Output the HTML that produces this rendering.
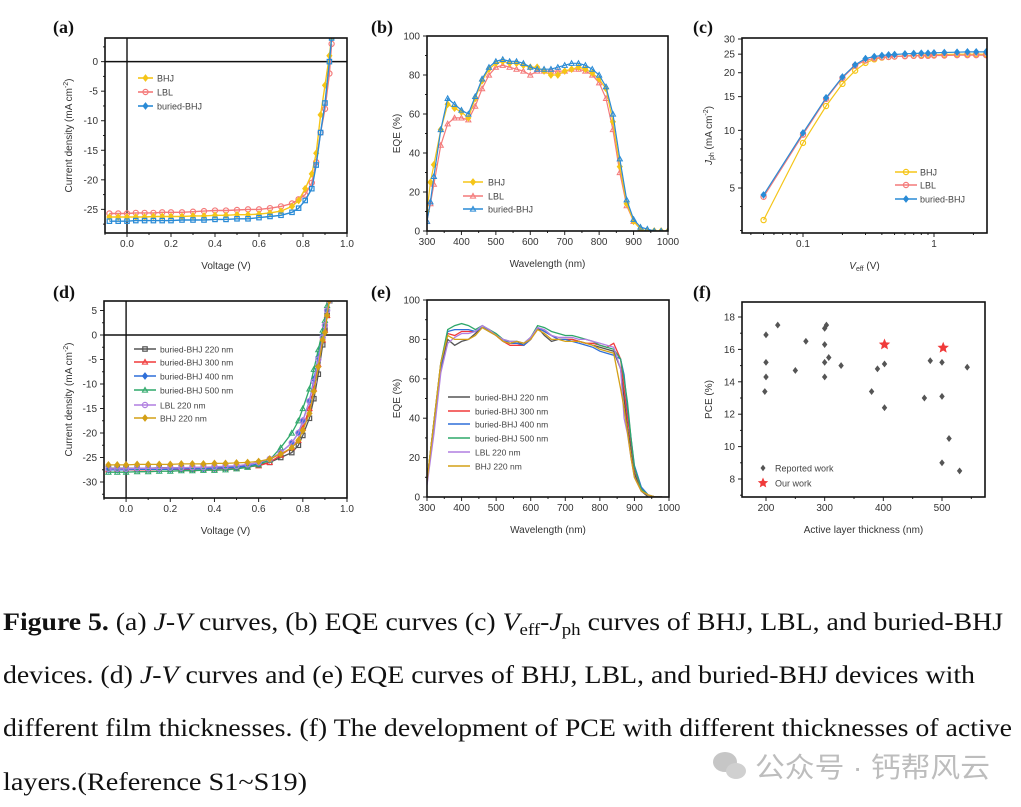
<!DOCTYPE html>
<html><head><meta charset="utf-8"><style>
body{margin:0;background:#fff;width:1021px;height:807px;overflow:hidden}
svg{display:block}
text{font-family:"Liberation Sans",sans-serif}
.cap{font-family:"Liberation Serif",serif;font-size:25px;fill:#111}
</style></head><body>
<svg id="fig" width="1021" height="807" viewBox="0 0 1021 807">
<g id="plots"></g>
<g>
<text class="cap" x="3" y="630" textLength="1000" lengthAdjust="spacingAndGlyphs"><tspan font-weight="bold">Figure 5.</tspan> (a) <tspan font-style="italic">J-V</tspan> curves, (b) EQE curves (c) <tspan font-style="italic">V</tspan><tspan font-size="17" dy="5">eff</tspan><tspan dy="-5">-</tspan><tspan font-style="italic">J</tspan><tspan font-size="17" dy="5">ph</tspan><tspan dy="-5"> curves of BHJ, LBL, and buried-BHJ</tspan></text>
<text class="cap" x="3" y="683" textLength="972" lengthAdjust="spacingAndGlyphs">devices. (d) <tspan font-style="italic">J-V</tspan> curves and (e) EQE curves of BHJ, LBL, and buried-BHJ devices with</text>
<text class="cap" x="3" y="736" textLength="1009" lengthAdjust="spacingAndGlyphs">different film thicknesses. (f) The development of PCE with different thicknesses of active</text>
<text class="cap" x="3" y="790" textLength="304" lengthAdjust="spacingAndGlyphs">layers.(Reference S1~S19)</text>
</g>
<g opacity="0.55">
<ellipse cx="725" cy="762" rx="12" ry="10" fill="#999"/><ellipse cx="736" cy="771" rx="10" ry="8" fill="#aaa"/>
<text x="755" y="777" font-size="28" fill="#888" textLength="235" lengthAdjust="spacingAndGlyphs" style='font-family:"Liberation Sans","Noto Sans CJK SC",sans-serif'>公众号 · 钙帮风云</text>
</g>
</svg>
<script>
// ===== Panel (a) data =====
const aV = [-0.08,-0.04,0,0.04,0.08,0.12,0.16,0.2,0.25,0.3,0.35,0.4,0.45,0.5,0.55,0.6,0.65,0.7,0.75,0.78,0.81,0.84,0.86,0.88,0.9,0.92,0.93];
const aBHJ = [-26.3,-26.3,-26.3,-26.3,-26.3,-26.2,-26.2,-26.2,-26.2,-26.1,-26.1,-26.0,-26.0,-25.9,-25.9,-25.8,-25.6,-25.3,-24.5,-23.5,-21.5,-19,-15.5,-9,-4,1,4];
const aLBL = [-25.7,-25.7,-25.7,-25.6,-25.6,-25.6,-25.5,-25.5,-25.5,-25.4,-25.3,-25.2,-25.2,-25.1,-25.0,-25.0,-24.8,-24.5,-24.0,-23.3,-22.5,-20.5,-17,-12,-8,-2,3];
const aBUR = [-27.0,-27.0,-27.0,-26.9,-26.9,-26.9,-26.9,-26.9,-26.8,-26.8,-26.8,-26.7,-26.7,-26.6,-26.6,-26.4,-26.2,-26.0,-25.5,-24.8,-23.5,-21.5,-17.5,-12,-7,0,4];
const aNames = ["BHJ","LBL","buried-BHJ"];
const aXTicks = [0.0,0.2,0.4,0.6,0.8,1.0];
const aYTicks = [0,-5,-10,-15,-20,-25];
// ===== Panel (b) data =====
const bW = [300,310,320,340,360,380,400,420,440,460,480,500,520,540,560,580,600,620,640,660,680,700,720,740,760,780,800,820,840,860,880,900,920,940,960,980,1000];
const bBHJ = [10,25,34,52,65,63,61,58,68,77,83,86,87,86,86,85,84,84,82,80,80,82,83,84,83,81,78,73,56,33,14,5,1,0,0,0,0];
const bLBL = [5,14,24,44,55,58,58,57,64,73,80,84,85,84,83,82,80,82,82,82,82,82,83,83,82,80,76,68,52,30,13,5,1,0,0,0,0];
const bBUR = [5,15,28,52,68,65,62,60,69,78,84,87,88,87,87,86,84,83,83,83,84,85,86,86,85,83,80,74,60,37,16,6,2,1,0,0,0];
const bXTicks = [300,400,500,600,700,800,900,1000];
const bYTicks = [0,20,40,60,80,100];
// ===== Panel (c) data =====
const cV = [0.05,0.1,0.15,0.2,0.25,0.3,0.35,0.4,0.45,0.5,0.6,0.7,0.8,0.9,1,1.2,1.5,1.8,2.1,2.5];
const cBHJ = [3.4,8.6,13.4,17.5,20.5,22.5,23.5,24,24.2,24.3,24.5,24.6,24.7,24.8,24.8,24.9,25,25,25,25];
const cLBL = [4.5,9.5,14.6,18.8,21.8,23.2,23.8,24.1,24.2,24.3,24.4,24.5,24.5,24.5,24.6,24.6,24.7,24.7,24.7,24.7];
const cBUR = [4.6,9.7,14.8,19,22,23.7,24.3,24.6,24.8,24.9,25.1,25.2,25.3,25.3,25.4,25.5,25.6,25.7,25.7,25.7];
const cXTicks = [0.1,1];
const cYTicks = [5,10,15,20,25,30];
// ===== Panel (d) data =====
const dV = [-0.08,-0.04,0,0.05,0.1,0.15,0.2,0.25,0.3,0.35,0.4,0.45,0.5,0.55,0.6,0.65,0.7,0.75,0.78,0.8,0.83,0.85,0.87,0.89,0.9,0.91,0.92];
const d220 = [-27.2,-27.2,-27.2,-27.2,-27.2,-27.1,-27.1,-27.1,-27.1,-27.0,-27.0,-26.9,-26.9,-26.7,-26.5,-26.0,-25.0,-24.0,-22.5,-20.5,-17,-13,-8,-2,1,4,7];
const d300 = [-27.5,-27.5,-27.5,-27.5,-27.5,-27.4,-27.4,-27.4,-27.4,-27.3,-27.3,-27.2,-27.1,-26.9,-26.7,-26.0,-24.5,-23.0,-21.5,-19,-15,-11,-6,-1,1,4,7];
const d400 = [-27.5,-27.5,-27.5,-27.4,-27.4,-27.4,-27.4,-27.3,-27.3,-27.3,-27.2,-27.1,-27.0,-26.7,-26.3,-25.5,-24.0,-22.0,-20,-17.5,-13.5,-9,-4.5,0,2,5,7];
const d500 = [-28,-28,-28,-27.9,-27.9,-27.8,-27.8,-27.7,-27.7,-27.6,-27.6,-27.5,-27.3,-27.0,-26.5,-25.5,-23.0,-20.0,-17.5,-15,-11,-7,-3,1,3,6,7];
const dLBL = [-27.3,-27.3,-27.3,-27.2,-27.2,-27.2,-27.1,-27.1,-27.0,-27.0,-26.9,-26.8,-26.7,-26.4,-26.0,-25.3,-24.0,-22.0,-20,-17.5,-13.5,-9.5,-5,-0.5,2,5,7];
const dBHJ = [-26.5,-26.5,-26.5,-26.4,-26.4,-26.4,-26.4,-26.3,-26.3,-26.3,-26.2,-26.2,-26.1,-26.0,-25.8,-25.3,-24.3,-23.0,-21.5,-19.5,-16,-11.5,-6.5,-1,0.5,4,7];
const dNames = ["buried-BHJ 220 nm","buried-BHJ 300 nm","buried-BHJ 400 nm","buried-BHJ 500 nm","LBL 220 nm","BHJ 220 nm"];
const dYTicks = [5,0,-5,-10,-15,-20,-25,-30];
// ===== Panel (e) data =====
const eW = [300,320,340,360,380,400,420,440,460,480,500,520,540,560,580,600,620,640,660,680,700,720,740,760,780,800,820,840,860,870,880,890,900,920,940,960,980];
const e220 = [8,38,65,80,77,79,80,83,86,84,82,79,78,79,77,81,86,82,79,80,80,80,79,78,77,76,75,74,65,50,35,25,12,3,0,0,0];
const e300 = [8,38,68,83,82,84,84,84,86,85,82,79,77,77,77,80,86,84,82,80,80,80,79,78,78,77,76,78,70,55,40,28,14,4,1,0,0];
const e400 = [8,36,66,84,85,85,85,84,86,85,82,80,78,78,77,80,86,84,82,80,80,79,78,77,76,74,73,72,70,62,45,30,16,5,1,0,0];
const e500 = [8,38,68,85,87,88,87,85,87,85,83,80,79,79,78,81,87,86,84,83,82,82,81,80,79,77,76,75,70,60,48,30,15,4,1,0,0];
const eLBL = [6,32,63,78,81,83,83,84,87,85,82,80,79,79,78,81,86,85,82,81,81,81,80,80,79,78,77,76,65,40,32,20,10,3,1,0,0];
const eBHJ = [8,38,68,82,80,80,80,82,86,84,82,79,78,79,78,80,85,83,80,80,79,79,79,78,77,75,74,73,55,45,33,20,10,3,1,0,0];
// ===== Panel (f) data =====
const fRepX = [200,200,200,198,220,250,268,300,303,300,300,307,300,328,390,402,380,402,470,480,500,500,500,512,530,543];
const fRepY = [16.9,15.2,14.3,13.4,17.5,14.7,16.5,17.3,17.5,16.3,15.2,15.5,14.3,15.0,14.8,15.1,13.4,12.4,13.0,15.3,15.2,13.1,9.0,10.5,8.5,14.9];
const fOurX = [402,502];
const fOurY = [16.3,16.1];
const fXTicks = [200,300,400,500];
const fYTicks = [8,10,12,14,16,18];

const NS = "http://www.w3.org/2000/svg";
const root = document.getElementById('plots');
function mk(tag, attrs, parent){
  const e = document.createElementNS(NS, tag);
  for (const k in attrs) e.setAttribute(k, attrs[k]);
  (parent||root).appendChild(e);
  return e;
}
function linScale(d0,d1,r0,r1){ return v => r0 + (v-d0)/(d1-d0)*(r1-r0); }
function logScale(d0,d1,r0,r1){ return v => r0 + (Math.log10(v)-Math.log10(d0))/(Math.log10(d1)-Math.log10(d0))*(r1-r0); }

function frame(p){
  const g = mk('g', {});
  
  
  const lab = mk('text', {x:p.lx, y:p.ly, 'font-size':18, 'font-weight':'bold', fill:'#111', style:'font-family:"Liberation Serif",serif'}, g);
  lab.textContent = p.label;
  
  
  const xa = mk('g', {}, g);
  
  
  p.xt.forEach(t => {
    const x = p.sx(t);
    mk('line', {x1:x, x2:x, y1:p.b, y2:p.b+4, stroke:'#222', 'stroke-width':1}, xa);
    const tx = mk('text', {x:x, y:p.b+14, 'font-size':10, 'text-anchor':'middle', fill:'#333'}, xa);
    tx.textContent = p.xf ? p.xf(t) : t;
    
    
  });
  (p.xm||[]).forEach(t => { const x=p.sx(t); mk('line',{x1:x,x2:x,y1:p.b,y2:p.b+2,stroke:'#222','stroke-width':1},xa); });
  const ya = mk('g', {}, g);
  
  
  p.yt.forEach(t => {
    const y = p.sy(t);
    mk('line', {x1:p.l-4, x2:p.l, y1:y, y2:y, stroke:'#222', 'stroke-width':1}, ya);
    const ty = mk('text', {x:p.l-7, y:y+3.5, 'font-size':10, 'text-anchor':'end', fill:'#333'}, ya);
    ty.textContent = p.yf ? p.yf(t) : t;
    
    
  });
  (p.ym||[]).forEach(t => { const y=p.sy(t); mk('line',{x1:p.l-2,x2:p.l,y1:y,y2:y,stroke:'#222','stroke-width':1},ya); });
  const xt = mk('text', {x:(p.l+p.r)/2, y:p.b+36, 'font-size':10, 'text-anchor':'middle', fill:'#333'}, g);
  xt.innerHTML = p.xtitle;
  
  
  const yy = (p.t+p.b)/2;
  const yt = mk('text', {x:p.ytx, y:yy, 'font-size':10, 'text-anchor':'middle', fill:'#333', transform:`rotate(-90 ${p.ytx} ${yy})`}, g);
  yt.innerHTML = p.ytitle;
  
  
  const cid = 'clip'+p.label.replace(/\W/g,'');
  const cp = mk('clipPath', {id:cid}, g);
  mk('rect', {x:p.l, y:p.t, width:p.r-p.l, height:p.b-p.t}, cp);
  const plot = mk('g', {'clip-path':`url(#${cid})`}, g);
  
  
  p.g = g; p.plot = plot;
  return p;
}
function closeFrame(p){
  mk('rect', {x:p.l, y:p.t, width:p.r-p.l, height:p.b-p.t, fill:'none', stroke:'#111', 'stroke-width':1.6}, p.g);
}
function marker(parent, shape, x, y, color, s){
  s = s||2.6;
  let e;
  if (shape==='circle') e = mk('circle', {cx:x, cy:y, r:s, fill:'none', stroke:color, 'stroke-width':1.2}, parent);
  else if (shape==='diamond') e = mk('polygon', {points:`${x},${y-s-0.6} ${x+s},${y} ${x},${y+s+0.6} ${x-s},${y}`, fill:color, stroke:color, 'stroke-width':0.8}, parent);
  else if (shape==='square') e = mk('rect', {x:x-s+0.4, y:y-s+0.4, width:2*s-0.8, height:2*s-0.8, fill:'none', stroke:color, 'stroke-width':1.2}, parent);
  else if (shape==='tri') e = mk('polygon', {points:`${x},${y-s} ${x+s},${y+s*0.8} ${x-s},${y+s*0.8}`, fill:'none', stroke:color, 'stroke-width':1}, parent);
  else if (shape==='star') {
    let pts=[]; for(let i=0;i<10;i++){const r=i%2?s*0.45:s; const a=-Math.PI/2+i*Math.PI/5; pts.push((x+r*Math.cos(a)).toFixed(1)+','+(y+r*Math.sin(a)).toFixed(1));}
    e = mk('polygon', {points:pts.join(' '), fill:color}, parent);
  }
  return e;
}
function series(p, xs, ys, color, shape, name, lw){
  const g = mk('g', {}, p.plot);
  
  
  const d = xs.map((x,i)=>`${i?'L':'M'}${p.sx(x).toFixed(1)},${p.sy(ys[i]).toFixed(1)}`).join(' ');
  mk('path', {d:d, fill:'none', stroke:color, 'stroke-width':lw||1.4}, g);
  if (shape) xs.forEach((x,i)=>{
    const m = marker(g, shape, p.sx(x), p.sy(ys[i]), color);
    
    
  });
}
function legend(p, items, x0, x1, tx, ys, fs){
  const g = mk('g', {}, p.g);
  
  
  items.forEach((it,i)=>{
    const eg = mk('g', {}, g);
    
    
    mk('line', {x1:x0, x2:x1, y1:ys[i], y2:ys[i], stroke:it.c, 'stroke-width':1.6}, eg);
    if (it.s) marker(eg, it.s, (x0+x1)/2, ys[i], it.c);
    const t = mk('text', {x:tx, y:ys[i]+3.5, 'font-size':fs||9, fill:'#444'}, eg);
    t.textContent = it.n;
  });
}

const C_Y='#f5c518', C_R='#f47a7a', C_B='#2a8bd6';
{
  const p = frame({name:'panel-a-jv', label:'(a)', lx:53, ly:33, l:105, r:347, t:38, b:233,
    sx:linScale(-0.1,1.0,105,347), sy:linScale(4,-29,38,233), xt:aXTicks, yt:aYTicks,
    xf:t=>t.toFixed(1), xm:[-0.1,0.1,0.3,0.5,0.7,0.9], ym:[2.5,-2.5,-7.5,-12.5,-17.5,-22.5,-27.5],
    xtitle:'Voltage (V)', ytitle:'Current density (mA cm<tspan dy="-4" font-size="7">-2</tspan><tspan dy="4">)</tspan>', ytx:72});
  mk('line',{x1:p.l,x2:p.r,y1:p.sy(0),y2:p.sy(0),stroke:'#111','stroke-width':1.4},p.plot);
  mk('line',{x1:p.sx(0),x2:p.sx(0),y1:p.t,y2:p.b,stroke:'#111','stroke-width':1.4},p.plot);
  series(p,aV,aLBL,C_R,'circle','lbl');
  series(p,aV,aBHJ,C_Y,'diamond','bhj');
  series(p,aV,aBUR,C_B,'square','buried-bhj');
  legend(p,[{n:aNames[0],c:C_Y,s:'diamond'},{n:aNames[1],c:C_R,s:'circle'},{n:aNames[2],c:C_B,s:'diamond'}],138,153,157,[78,92,106]);
  closeFrame(p);
}
{
  const p = frame({name:'panel-b-eqe', label:'(b)', lx:371, ly:33, l:427, r:668, t:36, b:231,
    sx:linScale(300,1000,427,668), sy:linScale(0,100,231,36), xt:bXTicks, yt:bYTicks,
    xm:[350,450,550,650,750,850,950], ym:[10,30,50,70,90],
    xtitle:'Wavelength (nm)', ytitle:'EQE (%)', ytx:400});
  series(p,bW,bLBL,C_R,'tri','lbl',1.2);
  series(p,bW,bBHJ,C_Y,'diamond','bhj',1.2);
  series(p,bW,bBUR,C_B,'tri','buried-bhj',1.2);
  legend(p,[{n:aNames[0],c:C_Y,s:'diamond'},{n:aNames[1],c:C_R,s:'tri'},{n:aNames[2],c:C_B,s:'tri'}],463,483,488,[182,196,209]);
  closeFrame(p);
}
{
  const p = frame({name:'panel-c-veff-jph', label:'(c)', lx:693, ly:33, l:742, r:987, t:38, b:233,
    sx:logScale(0.1,1,803,934), sy:logScale(5,30,188,39), xt:cXTicks, yt:cYTicks,
    xm:[0.04,0.05,0.06,0.07,0.08,0.09,0.2,0.3,0.4,0.5,0.6,0.7,0.8,0.9,2], ym:[3,4,6,7,8,9],
    xtitle:'<tspan font-style="italic">V</tspan><tspan font-size="7" dy="2">eff</tspan><tspan dy="-2"> (V)</tspan>',
    ytitle:'<tspan font-style="italic">J</tspan><tspan font-size="7" dy="2">ph</tspan><tspan dy="-2"> (mA cm</tspan><tspan dy="-4" font-size="7">-2</tspan><tspan dy="4">)</tspan>', ytx:712});
  series(p,cV,cBHJ,C_Y,'circle','bhj',1.2);
  series(p,cV,cLBL,C_R,'circle','lbl',1.2);
  series(p,cV,cBUR,C_B,'diamond','buried-bhj',1.2);
  legend(p,[{n:aNames[0],c:C_Y,s:'circle'},{n:aNames[1],c:C_R,s:'circle'},{n:aNames[2],c:C_B,s:'diamond'}],895,917,920,[172,185,199]);
  closeFrame(p);
}
const dCols = ['#555555','#f03a3a','#2e6fd8','#2fa86a','#b07fe0','#d4a017'];
const dShapes = ['square','tri','diamond','tri','circle','diamond'];
{
  const p = frame({name:'panel-d-jv-thickness', label:'(d)', lx:53, ly:298, l:104, r:347, t:301, b:498,
    sx:linScale(-0.1,1.0,104,347), sy:linScale(0,-30,335,482), xt:aXTicks, yt:dYTicks,
    xf:t=>t.toFixed(1), xm:[-0.1,0.1,0.3,0.5,0.7,0.9], ym:[2.5,-2.5,-7.5,-12.5,-17.5,-22.5,-27.5,-32.5],
    xtitle:'Voltage (V)', ytitle:'Current density (mA cm<tspan dy="-4" font-size="7">-2</tspan><tspan dy="4">)</tspan>', ytx:72});
  mk('line',{x1:p.l,x2:p.r,y1:p.sy(0),y2:p.sy(0),stroke:'#111','stroke-width':1.4},p.plot);
  mk('line',{x1:p.sx(0),x2:p.sx(0),y1:p.t,y2:p.b,stroke:'#111','stroke-width':1.4},p.plot);
  const ds=[d220,d300,d400,d500,dLBL,dBHJ];
  ds.forEach((s,i)=>series(p,dV,s,dCols[i],dShapes[i],dNames[i].replace(/ /g,'-').toLowerCase(),1.3));
  legend(p,dNames.map((n,i)=>({n:n,c:dCols[i],s:dShapes[i]})),134,156,160,[349,362,376,390,405,418],8.5);
  closeFrame(p);
}
{
  const p = frame({name:'panel-e-eqe-thickness', label:'(e)', lx:371, ly:298, l:427, r:669, t:300, b:497,
    sx:linScale(300,1000,427,669), sy:linScale(0,100,497,300), xt:bXTicks, yt:bYTicks,
    xm:[350,450,550,650,750,850,950], ym:[10,30,50,70,90],
    xtitle:'Wavelength (nm)', ytitle:'EQE (%)', ytx:400});
  const es=[e220,e300,e400,e500,eLBL,eBHJ];
  es.forEach((s,i)=>series(p,eW,s,dCols[i],null,dNames[i].replace(/ /g,'-').toLowerCase(),1.3));
  legend(p,dNames.map((n,i)=>({n:n,c:dCols[i]})),448,470,475,[397,411,424,438,452,466],8.5);
  closeFrame(p);
}
{
  const p = frame({name:'panel-f-pce-thickness', label:'(f)', lx:693, ly:298, l:742, r:985, t:302, b:497,
    sx:linScale(200,500,766,942), sy:linScale(8,18,479,317), xt:fXTicks, yt:fYTicks,
    xm:[250,350,450,550], ym:[7,9,11,13,15,17],
    xtitle:'Active layer thickness (nm)', ytitle:'PCE (%)', ytx:712});
  const gr = mk('g',{},p.plot);
  
  
  fRepX.forEach((x,i)=>{
    const m = marker(gr,'diamond',p.sx(x),p.sy(fRepY[i]),'#555',2.2);
    
    
  });
  const go = mk('g',{},p.plot);
  
  
  fOurX.forEach((x,i)=>{
    const m = marker(go,'star',p.sx(x),p.sy(fOurY[i]),'#f03a3a',6);
    
    
  });
  const lg = mk('g',{},p.g);
  
  
  marker(lg,'diamond',763,468,'#555',2);
  marker(lg,'star',763,483,'#f03a3a',5.5);
  const t1 = mk('text',{x:775,y:471.5,'font-size':9,fill:'#444'},lg); t1.textContent='Reported work';
  
  
  const t2 = mk('text',{x:775,y:486.5,'font-size':9,fill:'#444'},lg); t2.textContent='Our work';
  
  
  closeFrame(p);
}
</script>
</body></html>
